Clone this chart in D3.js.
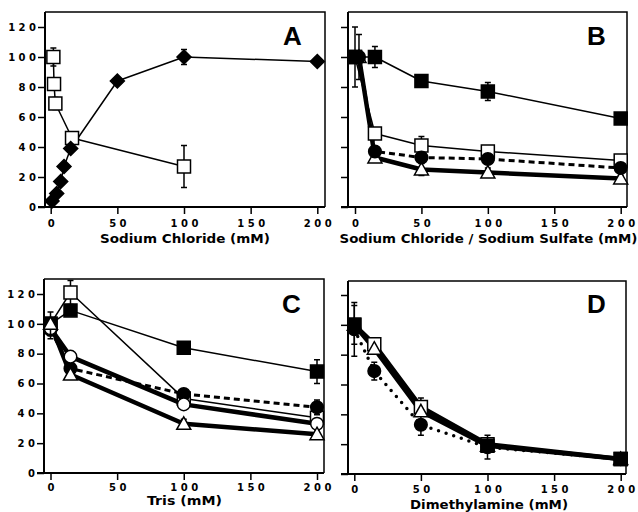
<!DOCTYPE html>
<html><head><meta charset="utf-8">
<script src="https://cdn.jsdelivr.net/npm/d3@7"></script>
<style>
body{margin:0;background:#fff;}
svg{display:block;}
text{font-family:"DejaVu Sans",sans-serif;font-weight:bold;fill:#000;}
</style></head>
<body><svg id="c" width="638" height="512"></svg>
<script>
// ---------- data ----------
const yTicks = [0, 20, 40, 60, 80, 100, 120];
const xTicks = [0, 50, 100, 150, 200];
const panelLetters = ["A", "B", "C", "D"];
const xTitles = ["Sodium Chloride (mM)", "Sodium Chloride / Sodium Sulfate (mM)", "Tris (mM)", "Dimethylamine (mM)"];

// Panel A
const aSqX = [2, 2.5, 3.5, 16, 100];
const aSqY = [100, 82, 69, 46, 27];
const aSqErr = [6, 4, 4, 0, 14];
const aDiaX = [1, 4.5, 7.5, 10, 15, 50, 100, 200];
const aDiaY = [4, 9, 17, 27, 39, 84, 100, 97];
const aDiaErr = [0, 0, 0, 0, 0, 0, 5, 0];

// Panel B
const bX = [0, 15, 50, 100, 200];
const bX2 = [3, 15, 50, 100, 200];
const bFilledSq = [100, 100, 84, 77, 59];
const bFilledSqErr = [20, 7, 4, 6, 2];
const bOpenSq = [100, 49, 41, 37, 31];
const bOpenSqErr = [0, 0, 6, 2, 2];
const bFilledCirc = [100, 37, 33, 32, 26];
const bFilledCircErr = [15, 3, 3, 2, 3];
const bOpenTri = [100, 33, 25, 23, 19];
const bOpenTriErr = [0, 2, 4, 3, 2];

// Panel C
const cX = [0, 15, 100, 200];
const cOpenSq = [100, 121, 50, 37];
const cOpenSqErr = [0, 8, 0, 0];
const cFilledSq = [100, 109, 84, 68];
const cFilledSqErr = [0, 3, 0, 8];
const cOpenCirc = [97, 78, 46, 33];
const cOpenCircErr = [0, 0, 0, 0];
const cFilledCirc = [96, 70, 53, 44];
const cFilledCircErr = [6, 4, 2, 5];
const cOpenTri = [100, 66, 33, 26];
const cOpenTriErr = [8, 3, 3, 2];

// Panel D
const dX = [0, 15, 50, 100, 200];
const dOpenSq = [100, 87, 45, 20, 10];
const dOpenSqErr = [13, 4, 6, 0, 0];
const dOpenTri = [100, 84, 42, 19, 10];
const dOpenTriErr = [0, 0, 0, 0, 0];
const dFilledCirc = [97, 69, 33, 18, 10];
const dFilledCircErr = [18, 6, 7, 8, 0];
const dFilledSqX = [0, 100, 200];
const dFilledSq = [100, 19, 10];
const dFilledSqErr = [0, 0, 0];

// ---------- helpers ----------
function zip(xs, ys, es) { return xs.map((x, i) => ({x: x, y: ys[i], e: es ? es[i] : 0})); }

const svg = d3.select("#c");

const panels = [
  {box: [45, 12, 325, 207], xr: [50.7, 317.3], yr: [207, 27], yLabels: true, letterPos: [283, 45], titlePos: [185, 243], titleW: 170, tickBase: 227,
   series: [
     {pts: zip(aSqX, aSqY, aSqErr), line: "thin", marker: "square", fill: false},
     {pts: zip(aDiaX, aDiaY, aDiaErr), line: "thin", marker: "diamond", fill: true}
   ]},
  {box: [348, 12, 627, 207], xr: [355, 620.7], yr: [207, 27], yLabels: false, letterPos: [587, 45], titlePos: [488.5, 243], titleW: 298, tickBase: 227,
   series: [
     {pts: zip(bX2, bOpenTri, bOpenTriErr), line: "thick", marker: "triangle", fill: false},
     {pts: zip(bX, bOpenSq, bOpenSqErr), line: "thin", marker: "square", fill: false},
     {pts: zip(bX2, bFilledCirc, bFilledCircErr), line: "dashed", marker: "circle", fill: true},
     {pts: zip(bX, bFilledSq, bFilledSqErr), line: "thin", marker: "square", fill: true}
   ]},
  {box: [44, 279, 324, 473], xr: [50.5, 317], yr: [473, 294], yLabels: true, letterPos: [282, 313], titlePos: [184.5, 505], titleW: 75, tickBase: 491,
   series: [
     {pts: zip(cX, cOpenSq, cOpenSqErr), line: "thin", marker: "square", fill: false},
     {pts: zip(cX, cFilledSq, cFilledSqErr), line: "thin", marker: "square", fill: true},
     {pts: zip(cX, cFilledCirc, cFilledCircErr), line: "dashed", marker: "circle", fill: true},
     {pts: zip(cX, cOpenCirc, cOpenCircErr), line: "thick", marker: "circle", fill: false},
     {pts: zip(cX, cOpenTri, cOpenTriErr), line: "thick", marker: "triangle", fill: false}
   ]},
  {box: [348, 281, 626, 474], xr: [354.3, 620.7], yr: [474, 295], yLabels: false, letterPos: [587, 313], titlePos: [489, 509], titleW: 158, tickBase: 493,
   series: [
     {pts: zip(dX, dFilledCirc, dFilledCircErr), line: "dotted", marker: "circle", fill: true},
     {pts: zip(dX, dOpenSq, dOpenSqErr), line: "thick", marker: "square", fill: false},
     {pts: zip(dX, dOpenTri, dOpenTriErr), line: "thick", marker: "triangle", fill: false},
     {pts: zip(dFilledSqX, dFilledSq, dFilledSqErr), line: "none", marker: "square", fill: true}
   ]}
];

const lineStyles = {
  thin: {w: 1.5, dash: null, cap: "butt"},
  thick: {w: 4.5, dash: null, cap: "round"},
  dashed: {w: 3, dash: "6,4", cap: "butt"},
  dotted: {w: 3.5, dash: "0,8", cap: "round"}
};

function markerPath(type, cx, cy) {
  if (type === "square") { const h = 6.5; return `M${cx-h},${cy-h}H${cx+h}V${cy+h}H${cx-h}Z`; }
  if (type === "diamond") { const h = 7; return `M${cx},${cy-h}L${cx+h},${cy}L${cx},${cy+h}L${cx-h},${cy}Z`; }
  if (type === "triangle") { const h = 7; return `M${cx},${cy-h}L${cx+h},${cy+5.5}L${cx-h},${cy+5.5}Z`; }
  const r = 6.3;
  return `M${cx-r},${cy}A${r},${r} 0 1,0 ${cx+r},${cy}A${r},${r} 0 1,0 ${cx-r},${cy}Z`;
}

panels.forEach((p, pi) => {
  const g = svg.append("g");
  const [L, T, R, B] = p.box;
  const x = d3.scaleLinear().domain([0, 200]).range(p.xr);
  const y = d3.scaleLinear().domain([0, 120]).range(p.yr);

  // frame top/right
  g.append("path").attr("d", `M${L},${T}H${R}V${B}`).attr("fill", "none").attr("stroke", "#000").attr("stroke-width", 1.5);

  // y axis
  const yAx = d3.axisLeft(y).tickValues(yTicks).tickSize(7).tickPadding(2)
    .tickFormat(p.yLabels ? d3.format("d") : () => "");
  const ya = g.append("g").attr("transform", `translate(${L},0)`).call(yAx);
  ya.select(".domain").attr("d", `M0,${B}V${T}`).attr("stroke-width", 2);
  ya.selectAll(".tick line").attr("stroke-width", 1.5);
  ya.selectAll(".tick text").attr("font-size", 10).attr("letter-spacing", 3.5).attr("dx", 3.5)
    .style("font-family", "DejaVu Sans").style("font-weight", "bold");

  // x axis
  const xAx = d3.axisBottom(x).tickValues(xTicks).tickSize(7).tickPadding(0).tickFormat(d3.format("d"));
  const xa = g.append("g").attr("transform", `translate(0,${B})`).call(xAx);
  xa.select(".domain").attr("d", `M${L-7},0H${R}`).attr("stroke-width", 2);
  xa.selectAll(".tick line").attr("stroke-width", 1.5);
  xa.selectAll(".tick text").attr("font-size", 10).attr("letter-spacing", 3.5).attr("dx", 1.75)
    .attr("dy", null).attr("y", p.tickBase - B)
    .style("font-family", "DejaVu Sans").style("font-weight", "bold");

  // lines
  p.series.forEach(s => {
    if (s.line === "none") return;
    const st = lineStyles[s.line];
    g.append("path").datum(s.pts)
      .attr("d", d3.line().x(d => x(d.x)).y(d => y(d.y)))
      .attr("fill", "none").attr("stroke", "#000")
      .attr("stroke-width", st.w).attr("stroke-dasharray", st.dash)
      .attr("stroke-linecap", st.cap).attr("stroke-linejoin", "round");
  });

  // markers with error bars
  p.series.forEach(s => {
    const eb = s.pts.filter(d => d.e > 0);
    g.selectAll(null).data(eb).enter().append("path")
      .attr("d", d => {
        const cx = x(d.x), t = y(d.y + d.e), b = y(d.y - d.e);
        return `M${cx},${t}V${b}M${cx-3},${t}H${cx+3}M${cx-3},${b}H${cx+3}`;
      })
      .attr("fill", "none").attr("stroke", "#000").attr("stroke-width", 1.5);
    g.selectAll(null).data(s.pts).enter().append("path")
      .attr("d", d => markerPath(s.marker, x(d.x), y(d.y)))
      .attr("fill", s.fill ? "#000" : "#fff").attr("stroke", "#000").attr("stroke-width", 1.5);
  });

  // panel letter
  g.append("text").attr("x", p.letterPos[0]).attr("y", p.letterPos[1])
    .style("font-family", "Liberation Sans, Arial, sans-serif").attr("font-size", 26).text(panelLetters[pi]);

  // x title
  g.append("text").attr("x", p.titlePos[0] - p.titleW / 2).attr("y", p.titlePos[1])
    .attr("font-size", 13).attr("textLength", p.titleW).attr("lengthAdjust", "spacingAndGlyphs")
    .text(xTitles[pi]);
});
</script></body></html>
